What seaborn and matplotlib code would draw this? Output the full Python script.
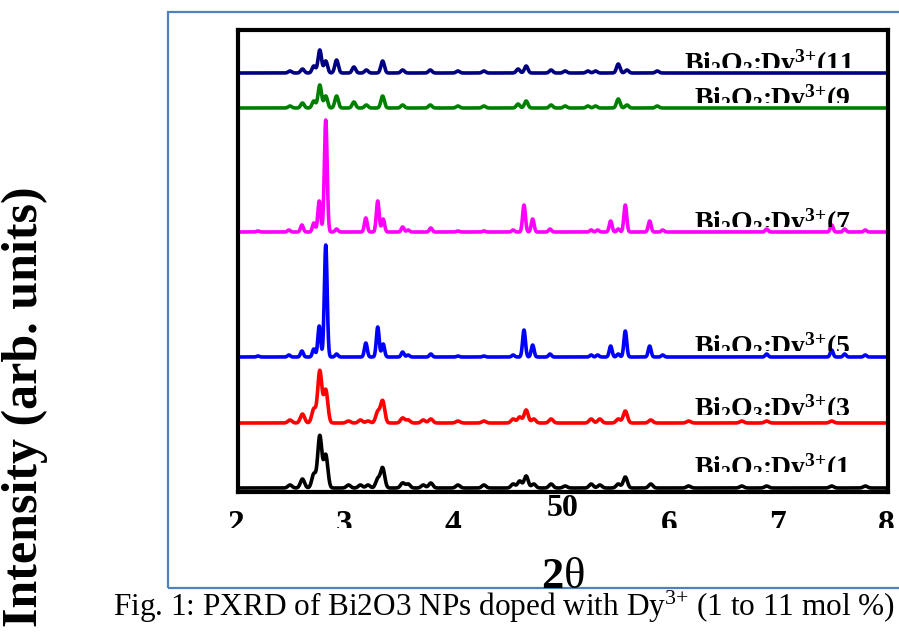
import numpy as np
import pandas as pd
import matplotlib
matplotlib.use("Agg")
import matplotlib.pyplot as plt
import seaborn as sns
from matplotlib.patches import Rectangle

# ---------------- data ----------------
samples = ["1", "3", "5", "7", "9", "11"]
colors = ["#000000", "#FF0000", "#0000FF", "#FF00FF", "#008000", "#000080"]
offsets = [4, 69, 135, 260, 384, 419]          # vertical stacking offsets (arb. units)

x_ticks = [20, 30, 40, 50, 60, 70, 80]
x_tick_labels = ["2", "3", "4", "50", "6", "7", "8"]

# peak positions (2theta) and heights (arb. units) per sample
pos_1 = [24.8, 25.95, 27.0, 27.55, 28.1, 30.2, 31.3, 32.0, 32.9, 33.35, 35.2, 35.7, 37.1, 37.8,
         40.3, 42.7, 45.4, 46.0, 46.6, 47.3, 48.9, 50.2, 52.6, 53.4, 55.1, 55.75, 58.1, 61.6,
         66.5, 68.8, 74.8, 77.9]
h_1 = [3, 9, 14, 52, 33, 3, 3, 3, 9, 20, 5, 4, 3, 5,
       3, 3, 4, 7, 12, 4, 4, 2, 4, 3, 4, 11, 4, 2,
       2, 2, 2, 2]

pos_3 = [24.8, 25.95, 27.0, 27.55, 28.1, 30.2, 31.3, 32.0, 32.9, 33.35, 35.2, 35.7, 37.1, 37.8,
         40.3, 42.7, 45.4, 46.0, 46.6, 47.3, 48.9, 52.6, 53.4, 55.1, 55.75, 58.1, 61.6, 66.5,
         68.8, 74.8]
h_3 = [3, 9, 14, 52, 33, 2, 3, 2, 11, 22, 5, 3, 3, 4,
       2, 2, 4, 6, 13, 4, 4, 4, 4, 4, 12, 3, 2, 2,
       2, 2]

pos_5 = [21.85, 24.7, 25.9, 27.0, 27.5, 28.1, 29.1, 31.8, 32.9, 33.4, 35.2, 35.7, 37.8, 40.3,
         42.7, 45.4, 46.4, 47.2, 48.8, 52.6, 53.2, 54.4, 55.1, 55.75, 58.0, 59.2, 68.8, 74.8,
         76.0, 77.9]
h_5 = [1, 2, 6, 8, 31, 112, 3, 14, 30, 13, 5, 2, 3, 1,
       1, 2, 27, 12, 3, 2, 2, 11, 3, 26, 11, 2, 3, 7,
       3, 2]

pos_7 = [21.85, 24.7, 25.9, 27.0, 27.5, 28.1, 29.1, 31.8, 32.9, 33.4, 35.2, 35.7, 37.8, 40.3,
         42.7, 45.4, 46.4, 47.2, 48.8, 52.6, 53.2, 54.4, 55.1, 55.75, 58.0, 59.2, 68.8, 74.8,
         76.0, 77.9]
h_7 = [1, 2, 7, 9, 31, 112, 3, 14, 31, 13, 5, 2, 4, 1,
       1, 2, 27, 13, 3, 2, 2, 11, 3, 27, 11, 2, 3, 7,
       3, 2]

pos_9 = [24.8, 25.95, 27.0, 27.55, 28.1, 29.1, 30.7, 31.85, 33.35, 35.2, 37.75, 40.3, 42.7,
         45.85, 46.6, 48.9, 50.2, 52.3, 53.0, 55.1, 55.9, 58.7]
h_9 = [2, 5, 7, 23, 12, 12, 6, 3, 12, 3, 3, 2, 2,
       4, 7, 3, 2, 2, 2, 9, 3, 2]

pos_11 = [24.8, 25.95, 27.0, 27.55, 28.1, 29.1, 30.7, 31.85, 33.35, 35.2, 37.75, 40.3, 42.7,
          45.85, 46.6, 48.9, 50.2, 52.3, 53.0, 55.1, 55.9, 58.7]
h_11 = [2, 4, 7, 23, 12, 13, 6, 3, 12, 3, 3, 2, 2,
        4, 7, 3, 2, 2, 2, 9, 3, 2]

peak_pos = [pos_1, pos_3, pos_5, pos_7, pos_9, pos_11]
peak_h = [h_1, h_3, h_5, h_7, h_9, h_11]

# ---------------- style / layout ----------------
peak_sigma = [0.19, 0.19, 0.13, 0.13, 0.16, 0.16]
label_x = [62.1, 62.1, 62.1, 62.1, 62.1, 61.2]
label_base = [16, 75, 137, 261, 385, 420]
label_clip = [20, 77, 141, 265, 389, 424]

W, H = 899, 634
sns.set_style("white")
plt.rcParams["font.family"] = ["Liberation Serif", "DejaVu Serif"]
plt.rcParams["text.color"] = "black"
plt.rcParams["mathtext.fontset"] = "custom"
plt.rcParams["mathtext.rm"] = "Liberation Serif"
plt.rcParams["mathtext.it"] = "Liberation Serif:italic"
plt.rcParams["mathtext.bf"] = "Liberation Serif:bold"

grid = np.linspace(20, 80, 2401)
frames = []
for s, off, pp, hh, sg in zip(samples, offsets, peak_pos, peak_h, peak_sigma):
    y = np.full_like(grid, float(off))
    for p, h in zip(pp, hh):
        y += h * np.exp(-0.5 * ((grid - p) / sg) ** 2)
    frames.append(pd.DataFrame({"two_theta": grid, "intensity": y, "sample": s}))
df = pd.concat(frames, ignore_index=True)

fig = plt.figure(figsize=(W / 100, H / 100), dpi=100)
fig.patch.set_facecolor("white")

# light blue frame around the figure content
fig.add_artist(Rectangle((168 / W, 1 - 588 / H), (905 - 168) / W, (588 - 12) / H,
                         transform=fig.transFigure, fill=False,
                         edgecolor="#4F81BD", lw=1.6))

ax = fig.add_axes([238 / W, (H - 492) / H, (888 - 238) / W, (492 - 30) / H])
sns.lineplot(data=df, x="two_theta", y="intensity", hue="sample",
             palette=dict(zip(samples, colors)), hue_order=samples,
             estimator=None, sort=False, legend=False, lw=2.6, ax=ax)
ax.set_xlim(20, 80)
ax.set_ylim(0, 462)
ax.set_xticks([])
ax.set_yticks([])
ax.set_xlabel("")
ax.set_ylabel("")
for sp in ax.spines.values():
    sp.set_visible(True)
    sp.set_color("black")
    sp.set_linewidth(3.0)

# sample labels (clipped at the bottom as in the reference)
for s, lx, lb, lc in zip(samples, label_x, label_base, label_clip):
    t = ax.text(lx, lb, r"Bi$_{\mathbf{2}}$O$_{\mathbf{3}}$:Dy$^{\mathbf{3{+}}}$(" + s,
                fontsize=20, fontweight="bold", ha="left", va="baseline",
                color="black", clip_on=True)
    t.set_clip_path(Rectangle((50, lc), 35, 60, transform=ax.transData))

# x tick labels (clipped like the reference)
xt = ax.get_xaxis_transform()
for xv, lab in zip(x_ticks, x_tick_labels):
    if lab == "50":
        ybase = (492 - 516) / 462
        t = ax.text(xv, ybase, lab, transform=xt, fontsize=23, fontweight="bold",
                    ha="center", va="baseline", clip_on=False, color="black")
    else:
        ybase = (492 - 533) / 462
        t = ax.text(xv - 0.2, ybase, lab, transform=xt, fontsize=24, fontweight="bold",
                    ha="center", va="baseline", clip_on=True, color="black")
        t.set_clip_path(Rectangle((10, (492 - 528) / 462), 80, 0.2, transform=xt))

# axis titles
fig.text(563 / W, 1 - 588 / H, r"$\mathbf{2}$θ", fontsize=32,
         ha="center", va="baseline", color="black")
fig.text(25 / W, 1 - 186 / H, "Intensity (arb. units)", fontsize=36,
         fontweight="bold", rotation=90, ha="center", va="top", color="black")

# caption
fig.text(113 / W, 1 - 616 / H,
         "Fig. 1: PXRD of Bi2O3 NPs doped with Dy$^{3{+}}$ (1 to 11 mol %)",
         fontsize=22.5, ha="left", va="baseline", color="black")

fig.savefig("out.png", dpi=100, facecolor="white")
